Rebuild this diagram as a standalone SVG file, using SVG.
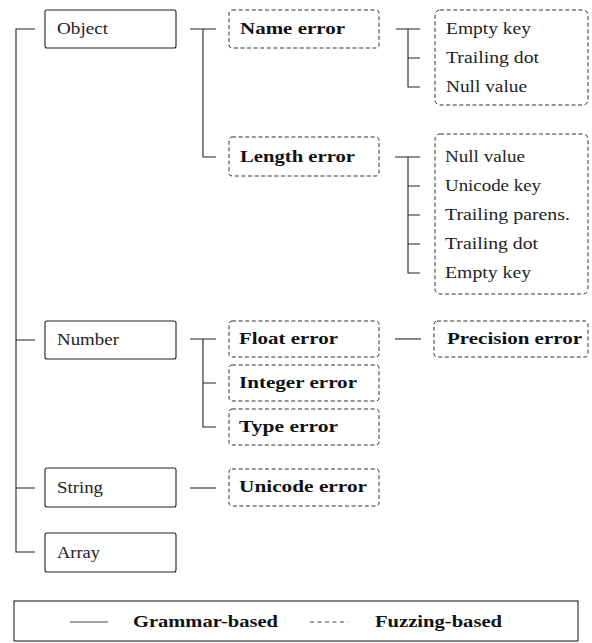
<svg xmlns="http://www.w3.org/2000/svg" width="592" height="643" viewBox="0 0 592 643">
<style>
.bg{fill:#fff}
.solid{fill:#fff;stroke:#222;stroke-width:1.1}
.dash{fill:#fff;stroke:#333;stroke-width:1;stroke-dasharray:4 2.6}
.conn{fill:none;stroke:#222;stroke-width:1.1}
.t{font-size:16.5px;fill:#222}
.b{font-weight:bold;fill:#111}
</style>
<rect class="bg" x="0" y="0" width="592" height="643"/>
<g id="connectors">
<path class="conn" d="M35 29H16V552H35M16 340H35M16 488H35"/>
<path class="conn" d="M190 29H216M203 29V157H216"/>
<path class="conn" d="M396 29H420M408 29V87H420M408 58H420"/>
<path class="conn" d="M395 157H420M408 157V273H420M408 186H420M408 215H420M408 244H420"/>
<path class="conn" d="M190 339H216M203 339V427H216M203 383H216"/>
<path class="conn" d="M395 339H421"/>
<path class="conn" d="M190 488H216"/>
</g>
<g class="t" font-family="Liberation Serif, Times New Roman, Tinos, serif">
<g id="object"><rect class="solid" x="45" y="10" width="131" height="38" rx="2"/><text x="57" y="34" textLength="51" lengthAdjust="spacingAndGlyphs">Object</text></g>
<g id="number"><rect class="solid" x="45" y="321" width="131" height="38" rx="2"/><text x="57" y="345" textLength="62" lengthAdjust="spacingAndGlyphs">Number</text></g>
<g id="string"><rect class="solid" x="45" y="468" width="131" height="39" rx="2"/><text x="57" y="493" textLength="46" lengthAdjust="spacingAndGlyphs">String</text></g>
<g id="array"><rect class="solid" x="45" y="533" width="131" height="39" rx="2"/><text x="57" y="558" textLength="43" lengthAdjust="spacingAndGlyphs">Array</text></g>
<g id="name-error"><rect class="dash" x="229" y="10" width="150" height="38" rx="3"/><text class="b" x="240" y="34" textLength="105" lengthAdjust="spacingAndGlyphs">Name error</text></g>
<g id="length-error"><rect class="dash" x="229" y="137" width="150" height="39" rx="3"/><text class="b" x="240" y="162" textLength="115" lengthAdjust="spacingAndGlyphs">Length error</text></g>
<g id="float-error"><rect class="dash" x="229" y="321" width="150" height="36" rx="3"/><text class="b" x="239" y="344" textLength="99" lengthAdjust="spacingAndGlyphs">Float error</text></g>
<g id="integer-error"><rect class="dash" x="229" y="365" width="150" height="36" rx="3"/><text class="b" x="239" y="388" textLength="118" lengthAdjust="spacingAndGlyphs">Integer error</text></g>
<g id="type-error"><rect class="dash" x="229" y="409" width="150" height="36" rx="3"/><text class="b" x="239" y="432" textLength="99" lengthAdjust="spacingAndGlyphs">Type error</text></g>
<g id="unicode-error"><rect class="dash" x="229" y="469" width="150" height="37" rx="3"/><text class="b" x="239" y="492" textLength="128" lengthAdjust="spacingAndGlyphs">Unicode error</text></g>
<g id="precision-error"><rect class="dash" x="434" y="321" width="154" height="36" rx="3"/><text class="b" x="447" y="344" textLength="135" lengthAdjust="spacingAndGlyphs">Precision error</text></g>
<g id="name-children"><rect class="dash" x="435" y="10" width="153" height="95" rx="5"/>
<text x="446" y="34" textLength="85" lengthAdjust="spacingAndGlyphs">Empty key</text>
<text x="446" y="63" textLength="93" lengthAdjust="spacingAndGlyphs">Trailing dot</text>
<text x="446" y="92" textLength="81" lengthAdjust="spacingAndGlyphs">Null value</text></g>
<g id="length-children"><rect class="dash" x="435" y="134" width="153" height="160" rx="5"/>
<text x="445" y="162" textLength="80" lengthAdjust="spacingAndGlyphs">Null value</text>
<text x="445" y="191" textLength="96" lengthAdjust="spacingAndGlyphs">Unicode key</text>
<text x="445" y="220" textLength="125" lengthAdjust="spacingAndGlyphs">Trailing parens.</text>
<text x="445" y="249" textLength="93" lengthAdjust="spacingAndGlyphs">Trailing dot</text>
<text x="445" y="278" textLength="86" lengthAdjust="spacingAndGlyphs">Empty key</text></g>
<g id="legend"><rect x="14" y="601" width="564" height="40" fill="#fff" stroke="#222" stroke-width="1.1"/>
<line x1="70" y1="622" x2="108" y2="622" stroke="#444" stroke-width="1.1"/>
<text class="b" x="133" y="627" textLength="145" lengthAdjust="spacingAndGlyphs">Grammar-based</text>
<line x1="310" y1="622" x2="348" y2="622" stroke="#444" stroke-width="1" stroke-dasharray="4 3.5"/>
<text class="b" x="375" y="627" textLength="127" lengthAdjust="spacingAndGlyphs">Fuzzing-based</text></g>
</g>
</svg>
